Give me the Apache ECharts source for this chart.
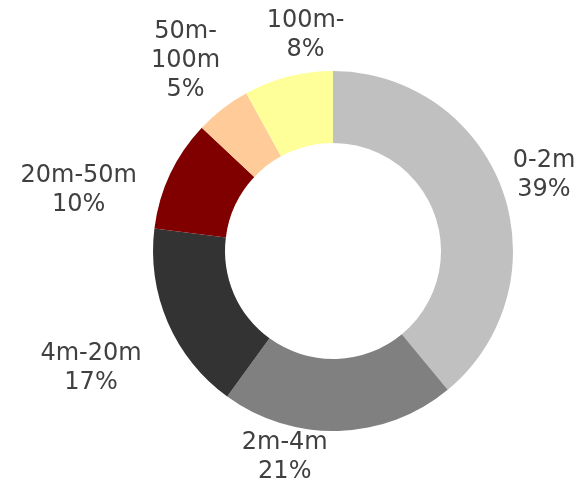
<!DOCTYPE html>
<html>
<head>
<meta charset="utf-8">
<script src="https://cdn.jsdelivr.net/npm/echarts@6/dist/echarts.min.js"></script>
<style>
  html, body { margin: 0; padding: 0; background: #ffffff; }
  #chart { width: 580px; height: 485px; }
</style>
</head>
<body>
<div id="chart"></div>
<script>
// ---- data ----
const categories = ['0-2m', '2m-4m', '4m-20m', '20m-50m', '50m-100m', '100m-'];
const shares = [39, 21, 17, 10, 5, 8];
const colors = ['#C0C0C0', '#808080', '#333333', '#800000', '#FFCC99', '#FFFF99'];

// ---- layout / style ----
const CX = 333, CY = 251, R_IN = 108, R_OUT = 180;
const FONT = '24px "DejaVu Sans", Verdana, sans-serif';
const LABEL_GAP = 5;
const LABEL_MAX_W = 122;
// manual label nudges (like hand-placed labels in the original)
const LABEL_NUDGE = {
  '2m-4m': [-55, -9],
  '4m-20m': [-19, 21],
  '20m-50m': [-28, 46],
  '100m-': [28, 0]
};

const ctx = document.createElement('canvas').getContext('2d');
ctx.font = FONT;
function wrapName(name) {
  if (ctx.measureText(name).width <= LABEL_MAX_W) return name;
  const k = name.indexOf('-');
  return k >= 0 ? name.slice(0, k + 1) + '\n' + name.slice(k + 1) : name;
}

const total = shares.reduce((a, b) => a + b, 0);

const chart = echarts.init(document.getElementById('chart'), null, { renderer: 'canvas' });
chart.setOption({
  animation: false,
  backgroundColor: '#ffffff',
  series: [{
    type: 'pie',
    center: [CX, CY],
    radius: [R_IN, R_OUT],
    startAngle: 90,
    clockwise: true,
    avoidLabelOverlap: false,
    silent: true,
    data: categories.map((c, i) => ({ name: c, value: shares[i], itemStyle: { color: colors[i] } })),
    itemStyle: { borderWidth: 0 },
    label: {
      show: true,
      position: 'inside',
      color: '#404040',
      fontFamily: '"DejaVu Sans", Verdana, sans-serif',
      fontSize: 24,
      lineHeight: 29,
      align: 'center',
      formatter: p => wrapName(p.name) + '\n' + p.value + '%'
    },
    labelLine: { show: false },
    labelLayout: function (p) {
      const i = p.dataIndex;
      let before = 0;
      for (let k = 0; k < i; k++) before += shares[k];
      const mid = (before + shares[i] / 2) / total * Math.PI * 2;
      const dx = Math.sin(mid), dy = -Math.cos(mid);
      const w = p.labelRect.width, h = p.labelRect.height;
      const ext = Math.abs(dx) * w / 2 + Math.abs(dy) * h / 2;
      const d = R_OUT + LABEL_GAP + ext;
      const n = LABEL_NUDGE[categories[i]] || [0, 0];
      return {
        x: CX + dx * d + n[0],
        y: CY + dy * d + n[1],
        align: 'center',
        verticalAlign: 'middle'
      };
    }
  }]
});
</script>
</body>
</html>
